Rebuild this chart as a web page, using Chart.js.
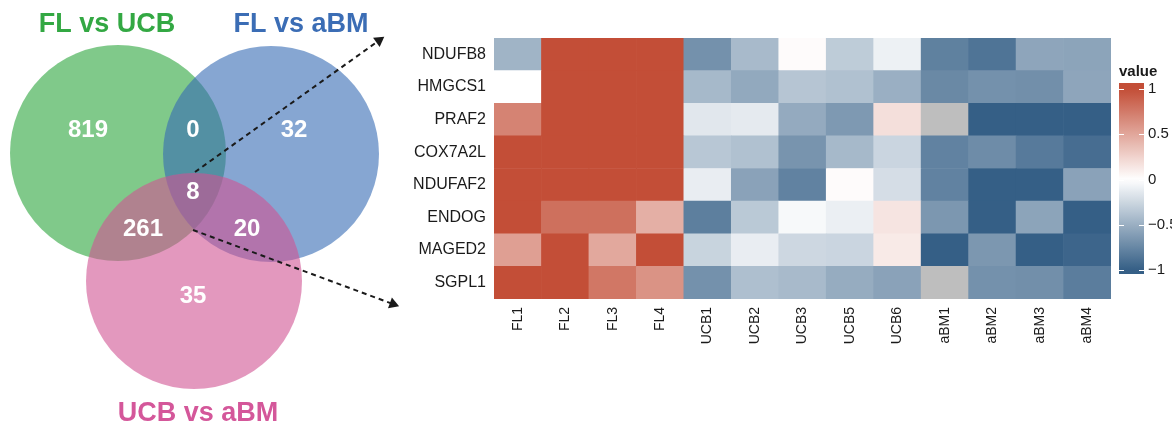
<!DOCTYPE html>
<html>
<head>
    <title>Venn and heatmap</title>
    <script src="https://cdn.jsdelivr.net/npm/chart.js"></script>
    <style>
      body {
    margin: 0;
    background: #fff;
    width: 1172px;
    height: 424px;
    overflow: hidden;
    position: relative;
}
#vennChart {
    position: absolute;
    left: 0;
    top: 0;
}
#heatChart {
    position: absolute;
    left: 410px;
    top: 0;
}
    </style>
</head>
<body>
  <canvas id="vennChart" width="410" height="424"></canvas>
  <canvas id="heatChart" width="762" height="424"></canvas>

  <script>
// Venn sets
const setNames = ['FL vs UCB', 'FL vs aBM', 'UCB vs aBM'];
const setFill = ['rgba(43,165,60,0.6)', 'rgba(53,107,180,0.6)', 'rgba(208,83,147,0.6)'];
const setText = ['#33A843', '#3B6DB5', '#D4579A'];
const circleX = [118, 271, 194];
const circleY = [153, 154, 281];
const circleR = [108, 108, 108];
const titleX = [107, 301, 198];
const titleY = [32, 32, 421];

// region counts: FL/UCB only, FL/UCB & FL/aBM, FL/aBM only, all three, FL/UCB & UCB/aBM, FL/aBM & UCB/aBM, UCB/aBM only
const regionCounts = [819, 0, 32, 8, 261, 20, 35];
const regionX = [88, 193, 294, 193, 143, 247, 193];
const regionY = [130, 130, 130, 192, 229, 229, 296];

// heatmap
const samples = ['FL1', 'FL2', 'FL3', 'FL4', 'UCB1', 'UCB2', 'UCB3', 'UCB5', 'UCB6', 'aBM1', 'aBM2', 'aBM3', 'aBM4'];
const genes = ['NDUFB8', 'HMGCS1', 'PRAF2', 'COX7A2L', 'NDUFAF2', 'ENDOG', 'MAGED2', 'SGPL1'];
const NDUFB8  = [-0.47, 1, 1, 1, -0.69, -0.43, 0.02, -0.32, -0.09, -0.79, -0.87, -0.56, -0.57];
const HMGCS1  = [0, 1, 1, 1, -0.44, -0.54, -0.36, -0.39, -0.5, -0.74, -0.69, -0.7, -0.56];
const PRAF2   = [0.7, 1, 1, 1, -0.15, -0.13, -0.53, -0.64, 0.18, null, -1, -1, -1];
const COX7A2L = [1, 1, 1, 1, -0.35, -0.39, -0.67, -0.44, -0.26, -0.78, -0.72, -0.83, -0.91];
const NDUFAF2 = [1, 1, 1, 1, -0.11, -0.58, -0.78, 0.02, -0.21, -0.78, -1, -1, -0.58];
const ENDOG   = [1, 0.81, 0.81, 0.45, -0.8, -0.34, -0.04, -0.1, 0.15, -0.65, -1, -0.57, -1];
const MAGED2  = [0.54, 1, 0.49, 1, -0.27, -0.11, -0.25, -0.26, 0.12, -1, -0.65, -1, -0.96];
const SGPL1   = [1, 1, 0.77, 0.61, -0.69, -0.4, -0.43, -0.52, -0.58, null, -0.69, -0.7, -0.81];
const rows = [NDUFB8, HMGCS1, PRAF2, COX7A2L, NDUFAF2, ENDOG, MAGED2, SGPL1];
const legendTicks = [1, 0.5, 0, -0.5, -1];

const lowCol = [53, 95, 134];
const highCol = [195, 78, 55];
const naCol = '#BEBEBE';

function valueColor(v) {
    if (v === null) return naCol;
    const end = v < 0 ? lowCol : highCol;
    const t = Math.min(1, Math.abs(v));
    const c = end.map(e => Math.round(255 + (e - 255) * t));
    return 'rgb(' + c.join(',') + ')';
}

Chart.defaults.font.family = "'Liberation Sans', Arial, sans-serif";

// ---------- Venn ----------
const vennText = {
    id: 'vennText',
    afterDatasetsDraw(chart) {
        const ctx = chart.ctx;
        const xs = chart.scales.x, ys = chart.scales.y;
        ctx.save();
        ctx.textAlign = 'center';
        ctx.font = "bold 27px 'Liberation Sans', Arial, sans-serif";
        ctx.textBaseline = 'alphabetic';
        setNames.forEach((n, i) => {
            ctx.fillStyle = setText[i];
            ctx.fillText(n, xs.getPixelForValue(titleX[i]), ys.getPixelForValue(titleY[i]));
        });
        ctx.font = "bold 24px 'Liberation Sans', Arial, sans-serif";
        ctx.textBaseline = 'middle';
        ctx.fillStyle = '#fff';
        regionCounts.forEach((c, i) => {
            ctx.fillText(String(c), xs.getPixelForValue(regionX[i]), ys.getPixelForValue(regionY[i]));
        });
        ctx.restore();
    }
};

const arrowLine = {
    type: 'line',
    borderColor: '#1a1a1a',
    borderWidth: 2,
    borderDash: [5, 4],
    pointRadius: [0, 6.5],
    pointStyle: 'triangle',
    pointBackgroundColor: '#1a1a1a',
    pointBorderWidth: 0,
    clip: false,
    order: 0
};

// higher order is painted first: green, then blue, then pink on top
new Chart(document.getElementById('vennChart'), {
    type: 'bubble',
    data: {
        datasets: [
            ...setNames.map((n, i) => ({
                label: n,
                data: [{ x: circleX[i], y: circleY[i], r: circleR[i] }],
                backgroundColor: setFill[i],
                borderWidth: 0,
                clip: false,
                order: 3 - i
            })),
            Object.assign({ data: [{ x: 195, y: 172 }, { x: 379, y: 40.5 }], pointRotation: 54.4 }, arrowLine),
            Object.assign({ data: [{ x: 193, y: 230 }, { x: 393, y: 304 }], pointRotation: 110.2 }, arrowLine)
        ]
    },
    options: {
        responsive: false,
        animation: false,
        events: [],
        layout: { padding: 0, autoPadding: false },
        plugins: { legend: { display: false }, tooltip: { enabled: false } },
        scales: {
            x: { type: 'linear', min: 0, max: 410, display: false },
            y: { type: 'linear', min: 0, max: 424, reverse: true, display: false }
        }
    },
    plugins: [vennText]
});

// ---------- heatmap ----------
const colorBar = {
    id: 'colorBar',
    afterDraw(chart) {
        const ctx = chart.ctx;
        const x0 = 709, w = 25, top = 83, bottom = 274;
        const yOf = v => 179.5 - 90.5 * v;
        ctx.save();
        const g = ctx.createLinearGradient(0, top, 0, bottom);
        for (let k = 0; k <= 40; k++) {
            const y = top + (bottom - top) * k / 40;
            const v = Math.max(-1, Math.min(1, (179.5 - y) / 90.5));
            g.addColorStop(k / 40, valueColor(v));
        }
        ctx.fillStyle = g;
        ctx.fillRect(x0, top, w, bottom - top);
        ctx.strokeStyle = '#fff';
        ctx.lineWidth = 1;
        ctx.fillStyle = '#1a1a1a';
        ctx.font = "15px 'Liberation Sans', Arial, sans-serif";
        ctx.textAlign = 'left';
        ctx.textBaseline = 'middle';
        legendTicks.forEach(v => {
            const y = Math.round(yOf(v)) + 0.5;
            ctx.beginPath();
            ctx.moveTo(x0, y); ctx.lineTo(x0 + 5, y);
            ctx.moveTo(x0 + w - 5, y); ctx.lineTo(x0 + w, y);
            ctx.stroke();
            ctx.fillText(String(v).replace('-', '\u2212'), x0 + w + 4, yOf(v));
        });
        ctx.font = "bold 15px 'Liberation Sans', Arial, sans-serif";
        ctx.textBaseline = 'alphabetic';
        ctx.fillText('value', x0, 76);
        ctx.restore();
    }
};

// bottom row first so the stack builds upward
const heatSets = rows.map((r, i) => ({
    label: genes[i],
    data: r.map(() => 1),
    backgroundColor: r.map(valueColor),
    borderWidth: 0,
    barPercentage: 1,
    categoryPercentage: 1
})).reverse();

new Chart(document.getElementById('heatChart'), {
    type: 'bar',
    data: { labels: samples, datasets: heatSets },
    options: {
        responsive: false,
        animation: false,
        events: [],
        layout: { padding: { top: 38, right: 61, left: 0, bottom: 0 }, autoPadding: false },
        plugins: { legend: { display: false }, tooltip: { enabled: false } },
        scales: {
            x: {
                stacked: true,
                grid: { display: false, drawTicks: false },
                border: { display: false },
                ticks: { minRotation: 90, maxRotation: 90, autoSkip: false, padding: 8, color: '#1a1a1a', font: { size: 14 } },
                afterFit: s => { s.height = 125; }
            },
            y: {
                stacked: true,
                min: 0,
                max: 8,
                grid: { display: false, drawTicks: false },
                border: { display: false },
                afterBuildTicks: s => { s.ticks = genes.map((g, i) => ({ value: 7.5 - i })); },
                ticks: {
                    autoSkip: false,
                    padding: 8,
                    color: '#1a1a1a',
                    font: { size: 16 },
                    callback: v => genes[Math.round(7.5 - v)]
                },
                afterFit: s => { s.width = 84; }
            }
        }
    },
    plugins: [colorBar]
});
  </script>
</body>
</html>
